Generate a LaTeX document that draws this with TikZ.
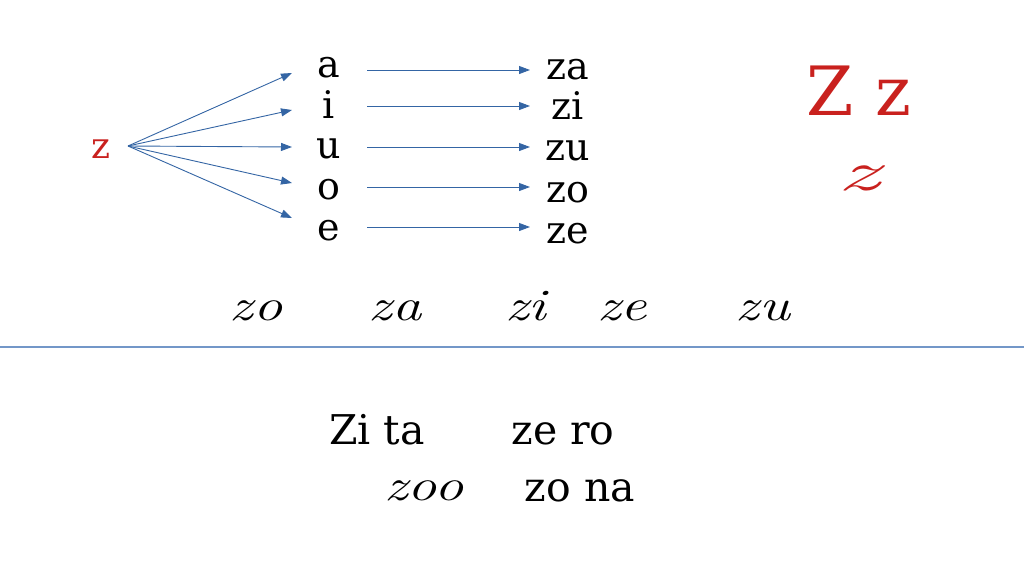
\documentclass[tikz,border=0pt]{standalone}
\usepackage{fontspec}
\newfontfamily\dv{DejaVu Serif}
\newfontfamily\curs{Latin Modern Roman}
\usetikzlibrary{arrows.meta}
\definecolor{zred}{HTML}{C9211E}
\definecolor{arrblue}{HTML}{3465A4}
\definecolor{lineblue}{HTML}{7397C8}
\newcommand{\wide}[1]{\scalebox{1.3}[1]{#1}}
\tikzset{
  lett/.style={anchor=base,inner sep=0pt,font=\dv\fontsize{38}{40}\selectfont},
  redz/.style={anchor=base,inner sep=0pt,text=zred,font=\dv\fontsize{36}{38}\selectfont},
  bigz/.style={anchor=base,inner sep=0pt,text=zred,font=\dv\fontsize{68}{70}\selectfont},
  redcurs/.style={anchor=base,inner sep=0pt,text=zred,font=\curs\itshape\fontsize{66}{68}\selectfont},
  cursw/.style={anchor=base,inner sep=0pt,font=\curs\itshape\fontsize{45}{47}\selectfont},
  word/.style={anchor=base,inner sep=0pt,font=\dv\fontsize{41}{43}\selectfont},
  arr/.style={draw=arrblue,line width=0.9pt,-{Triangle[length=11pt,width=8pt]}},
  sep/.style={draw=lineblue,line width=1.3pt}
}
\begin{document}
\begin{tikzpicture}[x=1pt,y=-1pt]
\useasboundingbox (0,0) rectangle (1024,576);
% source
\node[redz] (z) at (101,158) {z};
\coordinate (zs) at (128,146);
% vowels
\node[lett] (a) at (329,77) {a};
\node[lett] (i) at (329,118) {i};
\node[lett] (u) at (329,158) {u};
\node[lett] (o) at (329,199) {o};
\node[lett] (e) at (329,240) {e};
% syllables
\node[lett] (za) at (568,79) {za};
\node[lett] (zi) at (568,119) {zi};
\node[lett] (zu) at (568,160) {zu};
\node[lett] (zo) at (568,202) {zo};
\node[lett] (ze) at (568,243) {ze};
% fan tips
\coordinate (ta) at (292,73);
\coordinate (ti) at (292,110);
\coordinate (tu) at (292,147);
\coordinate (to) at (292,183);
\coordinate (te) at (292,218);
\draw[arr] (zs) -- (ta);
\draw[arr] (zs) -- (ti);
\draw[arr] (zs) -- (tu);
\draw[arr] (zs) -- (to);
\draw[arr] (zs) -- (te);
% horizontal arrows
\coordinate (sa) at (367,70);  \coordinate (ea) at (530,70);
\coordinate (si) at (367,106); \coordinate (ei) at (530,106);
\coordinate (su) at (367,147); \coordinate (eu) at (530,147);
\coordinate (so) at (367,187); \coordinate (eo) at (530,187);
\coordinate (se) at (367,227); \coordinate (ee) at (530,227);
\draw[arr] (sa) -- (ea);
\draw[arr] (si) -- (ei);
\draw[arr] (su) -- (eu);
\draw[arr] (so) -- (eo);
\draw[arr] (se) -- (ee);
% big letters
\node[bigz] (Zz) at (859,115) {Z z};
\node[redcurs] (zc) at (859,190) {\scalebox{1.6}[0.85]{z}};
% cursive row
\node[cursw] (c1) at (256,320) {\wide{zo}};
\node[cursw] (c2) at (395,320) {\wide{za}};
\node[cursw] (c3) at (526,320) {\wide{zi}};
\node[cursw] (c4) at (622,320) {\wide{ze}};
\node[cursw] (c5) at (763,320) {\wide{zu}};
% separator
\coordinate (l1) at (0,347);
\coordinate (l2) at (1024,347);
\draw[sep] (l1) -- (l2);
% words
\node[word] (w1) at (377,444) {Zi ta};
\node[word] (w2) at (563,444) {ze ro};
\node[cursw] (w3) at (424,500) {\wide{zoo}};
\node[word] (w4) at (580,501) {zo na};
\end{tikzpicture}
\end{document}
